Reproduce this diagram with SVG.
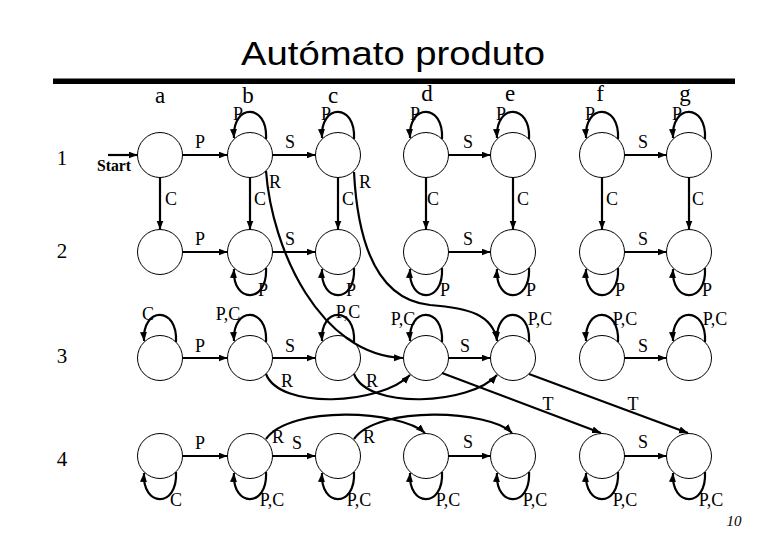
<svg xmlns="http://www.w3.org/2000/svg" width="780" height="540" viewBox="0 0 780 540">
<style>
.n{fill:#fff;stroke:#000;stroke-width:1}
.e{fill:none;stroke:#000;stroke-width:2.2;marker-end:url(#ah)}
.t{font-family:"Liberation Serif","Times New Roman",serif;font-size:18px;text-anchor:middle;fill:#000}
.col{font-family:"Liberation Serif","Times New Roman",serif;font-size:23px;text-anchor:middle;fill:#000}
.row{font-family:"Liberation Serif","Times New Roman",serif;font-size:21px;text-anchor:middle;fill:#000}
</style>
<defs>
<marker id="ah" markerUnits="userSpaceOnUse" markerWidth="10" markerHeight="8" refX="9" refY="3.5" orient="auto">
<path d="M0,0 L9,3.5 L0,7 z" fill="#000"/>
</marker>
</defs>
<rect width="780" height="540" fill="#fff"/>
<text x="241" y="65" font-family="'Liberation Sans',Arial,sans-serif" font-size="33" textLength="304" lengthAdjust="spacingAndGlyphs">Autómato produto</text>
<rect x="53" y="78.5" width="682" height="5.5" fill="#000"/>
<g id="labels">
<text class="col" x="160" y="103">a</text>
<text class="col" x="248" y="103">b</text>
<text class="col" x="333" y="103">c</text>
<text class="col" x="427" y="101">d</text>
<text class="col" x="510" y="101">e</text>
<text class="col" x="600" y="101">f</text>
<text class="col" x="685" y="101">g</text>
<text class="row" x="62" y="165">1</text>
<text class="row" x="62" y="258">2</text>
<text class="row" x="62" y="363">3</text>
<text class="row" x="62" y="466">4</text>
<text x="734" y="526" font-family="'Liberation Serif',serif" font-size="15" font-style="italic" text-anchor="middle">10</text>
</g>
<g id="nodes">
<g id="a1"><circle class="n" cx="160" cy="155" r="22.5"/></g>
<g id="b1"><circle class="n" cx="250" cy="155" r="22.5"/></g>
<g id="c1"><circle class="n" cx="338" cy="155" r="22.5"/></g>
<g id="d1"><circle class="n" cx="426" cy="155" r="22.5"/></g>
<g id="e1"><circle class="n" cx="513" cy="155" r="22.5"/></g>
<g id="f1"><circle class="n" cx="602" cy="155" r="22.5"/></g>
<g id="g1"><circle class="n" cx="689" cy="155" r="22.5"/></g>
<g id="a2"><circle class="n" cx="160" cy="252" r="22.5"/></g>
<g id="b2"><circle class="n" cx="250" cy="252" r="22.5"/></g>
<g id="c2"><circle class="n" cx="338" cy="252" r="22.5"/></g>
<g id="d2"><circle class="n" cx="426" cy="252" r="22.5"/></g>
<g id="e2"><circle class="n" cx="513" cy="252" r="22.5"/></g>
<g id="f2"><circle class="n" cx="602" cy="252" r="22.5"/></g>
<g id="g2"><circle class="n" cx="689" cy="252" r="22.5"/></g>
<g id="a3"><circle class="n" cx="160" cy="358" r="22.5"/></g>
<g id="b3"><circle class="n" cx="250" cy="358" r="22.5"/></g>
<g id="c3"><circle class="n" cx="338" cy="358" r="22.5"/></g>
<g id="d3"><circle class="n" cx="426" cy="358" r="22.5"/></g>
<g id="e3"><circle class="n" cx="513" cy="358" r="22.5"/></g>
<g id="f3"><circle class="n" cx="602" cy="358" r="22.5"/></g>
<g id="g3"><circle class="n" cx="689" cy="358" r="22.5"/></g>
<g id="a4"><circle class="n" cx="160" cy="456" r="22.5"/></g>
<g id="b4"><circle class="n" cx="250" cy="456" r="22.5"/></g>
<g id="c4"><circle class="n" cx="338" cy="456" r="22.5"/></g>
<g id="d4"><circle class="n" cx="426" cy="456" r="22.5"/></g>
<g id="e4"><circle class="n" cx="513" cy="456" r="22.5"/></g>
<g id="f4"><circle class="n" cx="602" cy="456" r="22.5"/></g>
<g id="g4"><circle class="n" cx="689" cy="456" r="22.5"/></g>
</g>
<g id="connectors">
<!-- start -->
<path class="e" d="M108,155 L137.5,155"/>
<text x="114" y="171" font-family="'Liberation Serif',serif" font-size="16" font-weight="bold" text-anchor="middle" textLength="34" lengthAdjust="spacingAndGlyphs">Start</text>
<!-- horizontal edges -->
<path class="e" d="M182.5,155 L227.5,155"/><path class="e" d="M272.5,155 L315.5,155"/><path class="e" d="M448.5,155 L490.5,155"/><path class="e" d="M624.5,155 L666.5,155"/>
<path class="e" d="M182.5,252 L227.5,252"/><path class="e" d="M272.5,252 L315.5,252"/><path class="e" d="M448.5,252 L490.5,252"/><path class="e" d="M624.5,252 L666.5,252"/>
<path class="e" d="M182.5,358 L227.5,358"/><path class="e" d="M272.5,358 L315.5,358"/><path class="e" d="M448.5,358 L490.5,358"/><path class="e" d="M624.5,358 L666.5,358"/>
<path class="e" d="M182.5,456 L227.5,456"/><path class="e" d="M272.5,456 L315.5,456"/><path class="e" d="M448.5,456 L490.5,456"/><path class="e" d="M624.5,456 L666.5,456"/>
<text class="t" x="200" y="148">P</text><text class="t" x="290" y="148">S</text><text class="t" x="468" y="148">S</text><text class="t" x="643" y="148">S</text>
<text class="t" x="200" y="245">P</text><text class="t" x="290" y="245">S</text><text class="t" x="468" y="245">S</text><text class="t" x="643" y="245">S</text>
<text class="t" x="200" y="352">P</text><text class="t" x="290" y="352">S</text><text class="t" x="465" y="352">S</text><text class="t" x="643" y="352">S</text>
<text class="t" x="200" y="449">P</text><text class="t" x="297" y="449">S</text><text class="t" x="468" y="448">S</text><text class="t" x="643" y="448">S</text>
<!-- vertical C edges -->
<path class="e" d="M160,177.5 L160,229.5"/><path class="e" d="M250,177.5 L250,229.5"/><path class="e" d="M338,177.5 L338,229.5"/><path class="e" d="M426,177.5 L426,229.5"/><path class="e" d="M513,177.5 L513,229.5"/><path class="e" d="M602,177.5 L602,229.5"/><path class="e" d="M689,177.5 L689,229.5"/>
<text class="t" x="171" y="205">C</text><text class="t" x="260" y="205">C</text><text class="t" x="348" y="205">C</text><text class="t" x="433" y="205">C</text><text class="t" x="523" y="205">C</text><text class="t" x="612" y="205">C</text><text class="t" x="698" y="205">C</text>
<!-- row 1 loops -->
<path class="e" d="M266,139 C268,103 232,103 234,138"/>
<path class="e" d="M354,139 C356,103 320,103 322,138"/>
<path class="e" d="M442,139 C444,103 408,103 410,138"/>
<path class="e" d="M529,139 C531,103 495,103 497,138"/>
<path class="e" d="M618,139 C620,103 584,103 586,138"/>
<path class="e" d="M705,139 C707,103 671,103 673,138"/>
<text class="t" x="238" y="120">P</text><text class="t" x="326" y="120">P</text><text class="t" x="415" y="120">P</text><text class="t" x="501" y="120">P</text><text class="t" x="590" y="120">P</text><text class="t" x="677" y="120">P</text>
<!-- row 2 loops -->
<path class="e" d="M266,268 C268,304 232,304 234,269"/>
<path class="e" d="M354,268 C356,304 320,304 322,269"/>
<path class="e" d="M442,268 C444,304 408,304 410,269"/>
<path class="e" d="M529,268 C531,304 495,304 497,269"/>
<path class="e" d="M618,268 C620,304 584,304 586,269"/>
<path class="e" d="M705,268 C707,304 671,304 673,269"/>
<text class="t" x="263" y="296">P</text><text class="t" x="351" y="296">P</text><text class="t" x="445" y="296">P</text><text class="t" x="531" y="296">P</text><text class="t" x="620" y="296">P</text><text class="t" x="707" y="296">P</text>
<!-- row 3 loops -->
<path class="e" d="M176,342 C178,306 142,306 144,341"/>
<path class="e" d="M266,342 C268,306 232,306 234,341"/>
<path class="e" d="M354,342 C356,306 320,306 322,341"/>
<path class="e" d="M442,342 C444,306 408,306 410,341"/>
<path class="e" d="M529,342 C531,306 495,306 497,341"/>
<path class="e" d="M618,342 C620,306 584,306 586,341"/>
<path class="e" d="M705,342 C707,306 671,306 673,341"/>
<text class="t" x="148" y="320">C</text><text class="t" x="228" y="320">P,C</text><text class="t" x="348" y="318">P,C</text><text class="t" x="403" y="325">P,C</text><text class="t" x="540" y="325">P,C</text><text class="t" x="625" y="325">P,C</text><text class="t" x="715" y="325">P,C</text>
<!-- row 4 loops -->
<path class="e" d="M176,472 C178,508 142,508 144,473"/>
<path class="e" d="M266,472 C268,508 232,508 234,473"/>
<path class="e" d="M354,472 C356,508 320,508 322,473"/>
<path class="e" d="M442,472 C444,508 408,508 410,473"/>
<path class="e" d="M529,472 C531,508 495,508 497,473"/>
<path class="e" d="M618,472 C620,508 584,508 586,473"/>
<path class="e" d="M705,472 C707,508 671,508 673,473"/>
<text class="t" x="176" y="506">C</text><text class="t" x="272" y="506">P,C</text><text class="t" x="359" y="506">P,C</text><text class="t" x="448" y="506">P,C</text><text class="t" x="535" y="506">P,C</text><text class="t" x="625" y="506">P,C</text><text class="t" x="711" y="506">P,C</text>
<!-- R edges row 1 -->
<path class="e" d="M266,171 C272,250 320,355 403,358"/>
<path class="e" d="M354,172 C358,250 380,300 430,305 C470,308 492,315 497,340"/>
<text class="t" x="275" y="188">R</text><text class="t" x="365" y="188">R</text>
<!-- R edges row 3 -->
<path class="e" d="M266,374 C280,410 380,405 410,375"/>
<path class="e" d="M354,374 C368,410 470,405 497,375"/>
<text class="t" x="287" y="387">R</text><text class="t" x="372" y="387">R</text>
<!-- T edges -->
<path class="e" d="M442,373 L601,433"/>
<path class="e" d="M529,374 L688,433"/>
<text class="t" x="548" y="410">T</text><text class="t" x="633" y="410">T</text>
<!-- R edges row 4 -->
<path class="e" d="M266,439 C290,405 400,410 425,433"/>
<path class="e" d="M354,439 C378,405 490,410 512,433"/>
<text class="t" x="278" y="443">R</text><text class="t" x="369" y="443">R</text>
</g>
</svg>
